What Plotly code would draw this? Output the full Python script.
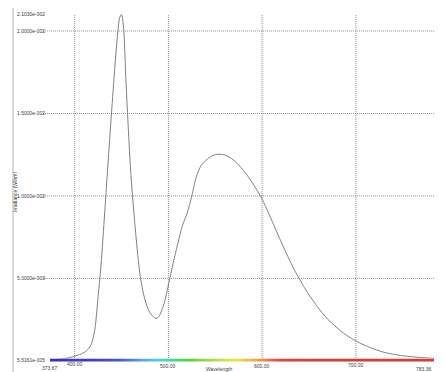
import plotly.graph_objects as go

# ---- data ----
wavelength = [373.67, 380, 385, 390, 395, 400, 405, 410, 415, 418, 420, 422, 425, 428, 430, 433, 435, 440, 445,
              448, 450, 452, 455, 460, 465, 470, 475, 480, 485, 488, 490, 495, 500, 505,
              510, 515, 520, 525, 530, 535, 540, 545, 550, 555, 560, 565, 570, 575, 580,
              585, 590, 595, 600, 605, 610, 615, 620, 625, 630, 635, 640, 645, 650, 655,
              660, 665, 670, 675, 680, 685, 690, 695, 700, 710, 720, 730, 740, 750, 760,
              770, 783.36]
power_e3 = [0.06, 0.09, 0.11, 0.15, 0.20, 0.28, 0.38, 0.50, 0.75, 1.05, 1.45, 2.10, 3.90, 5.70, 7.30, 9.80, 11.5, 15.6, 19.3,
            20.8, 21.0, 20.3, 16.6, 11.3, 7.8, 5.1, 3.7, 2.95, 2.62, 2.59, 2.70, 3.40, 4.60, 5.90,
            7.10, 8.20, 8.95, 10.0, 11.2, 11.85, 12.15, 12.38, 12.50, 12.53, 12.48, 12.35, 12.15, 11.88, 11.55,
            11.17, 10.75, 10.3, 9.80, 9.20, 8.55, 7.90, 7.25, 6.62, 6.02, 5.45, 4.95, 4.45, 4.00, 3.60,
            3.20, 2.85, 2.52, 2.25, 2.00, 1.76, 1.55, 1.37, 1.20, 0.93, 0.70, 0.52, 0.40, 0.31, 0.25,
            0.20, 0.15]
power = [v * 1e-3 for v in power_e3]

x_min, x_max = 373.67, 783.36
y_min, y_max = 5.5161e-5, 2.1030e-2
x_grid = [400, 500, 600, 700]
y_grid = [5e-3, 1e-2, 1.5e-2, 2e-2]
y_tick_vals = [5.5161e-5, 5e-3, 1e-2, 1.5e-2, 2e-2, 2.1030e-2]
y_tick_text = ["5.5161e-005", "5.0000e-003", "1.0000e-002", "1.5000e-002", "2.0000e-002", "2.1030e-002"]
x_tick_vals = [373.67, 400, 500, 600, 700, 783.36]
x_tick_text = ["373.67", "400.00", "500.00", "600.00", "700.00", "783.36"]

# spectrum colour bar (wavelength -> colour)
spec_wl = [373.67, 420, 450, 470, 490, 505, 520, 545, 570, 585, 600, 620, 650, 783.36]
spec_col = ["#3a2fb8", "#3f3fd0", "#4a5ad8", "#5aa0e8", "#40d8e0", "#40d890", "#50d040", "#a0e040",
            "#e8e840", "#f0c040", "#f09040", "#e84040", "#e03838", "#e03838"]

fig = go.Figure()

span = x_max - x_min
cscale = [[(w - x_min) / span, c] for w, c in zip(spec_wl, spec_col)]
bar_x = [x_min + i * span / 400 for i in range(401)]
fig.add_trace(go.Heatmap(x=bar_x, y=[0], z=[bar_x], colorscale=cscale, showscale=False,
                         zmin=x_min, zmax=x_max, xaxis="x", yaxis="y2", hoverinfo="skip"))

fig.add_trace(go.Scatter(x=wavelength, y=power, mode="lines",
                         line=dict(color="#808080", width=1, shape="spline", smoothing=0.8),
                         showlegend=False))

shapes = []
for gx in x_grid:
    shapes.append(dict(type="line", xref="x", yref="paper", x0=gx, x1=gx, y0=0.006, y1=1,
                       line=dict(color="#8c8c8c", width=1, dash="1px,1px"), layer="below"))
for gy in y_grid:
    shapes.append(dict(type="line", xref="paper", yref="y", x0=-0.018, x1=1, y0=gy, y1=gy,
                       line=dict(color="#8c8c8c", width=1, dash="1px,1px"), layer="below"))
# left grey strip
shapes.append(dict(type="rect", xref="paper", yref="paper", x0=-0.099, x1=-0.094, y0=-0.05, y1=1.05,
                   fillcolor="#d9d9d9", line=dict(width=0), layer="below"))

font_small = dict(family="Liberation Sans, Arial", size=5, color="#404040")
annotations = []
for v, t in zip(y_tick_vals, y_tick_text):
    annotations.append(dict(xref="paper", yref="y", x=-0.008, y=v, text=t, showarrow=False,
                            xanchor="right", yanchor="middle", font=font_small))
x_label_y = [-0.017, -0.006, -0.011, -0.011, -0.009, -0.019]
for v, t, yy in zip(x_tick_vals, x_tick_text, x_label_y):
    xa = "center"
    if v == x_max:
        xa = "right"
    annotations.append(dict(xref="x", yref="paper", x=v, y=yy, text=t, showarrow=False,
                            xanchor=xa, yanchor="middle", font=font_small))
annotations.append(dict(xref="paper", yref="paper", x=0.44, y=-0.021, text="Wavelength",
                        showarrow=False, xanchor="center", yanchor="middle", font=font_small))
annotations.append(dict(xref="paper", yref="paper", x=-0.09, y=0.49, text="Irradiance (W/nm)",
                        showarrow=False, textangle=-90, xanchor="center", yanchor="middle",
                        font=font_small))

# page body has an 8px margin, so the figure is sized/margined to compensate
fig.update_layout(
    width=436, height=364,
    margin=dict(l=42, r=10, t=6, b=10),
    paper_bgcolor="white", plot_bgcolor="white",
    showlegend=False,
    xaxis=dict(range=[x_min, x_max], showgrid=False, zeroline=False, showticklabels=False,
               ticks="", showline=False),
    yaxis=dict(range=[y_min, y_max], domain=[0.006, 1], showgrid=False, zeroline=False,
               showticklabels=False, ticks="", showline=False),
    yaxis2=dict(domain=[0, 0.01], range=[-0.5, 0.5], showgrid=False, zeroline=False,
                showticklabels=False, ticks="", showline=False, anchor="x"),
    shapes=shapes,
    annotations=annotations,
)

fig.write_html("out.html")
